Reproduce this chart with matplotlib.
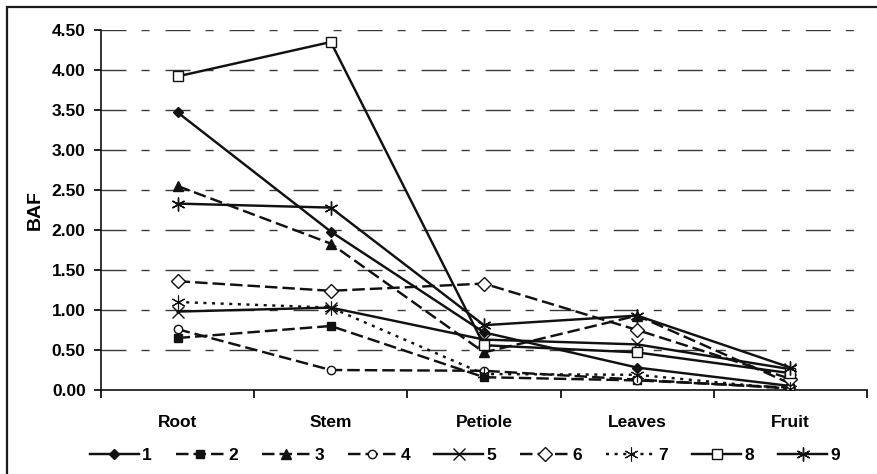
import matplotlib.pyplot as plt
from matplotlib.patches import Rectangle
from matplotlib.ticker import FixedLocator, NullFormatter

plt.rcParams['font.family'] = ['Liberation Sans', 'DejaVu Sans']
plt.rcParams['font.weight'] = 'bold'
plt.rcParams['axes.labelweight'] = 'bold'
plt.rcParams['lines.scale_dashes'] = False

# BAF per plant part for nine samples
parts = ['Root', 'Stem', 'Petiole', 'Leaves', 'Fruit']
labels = ['1', '2', '3', '4', '5', '6', '7', '8', '9']
s1 = [3.47, 1.98, 0.72, 0.28, 0.05]
s2 = [0.65, 0.80, 0.16, 0.12, 0.03]
s3 = [2.55, 1.83, 0.47, 0.93, 0.08]
s4 = [0.76, 0.25, 0.24, 0.13, 0.02]
s5 = [0.98, 1.03, 0.63, 0.57, 0.26]
s6 = [1.36, 1.24, 1.33, 0.75, 0.14]
s7 = [1.10, 1.03, 0.20, 0.19, 0.01]
s8 = [3.92, 4.35, 0.56, 0.47, 0.21]
s9 = [2.33, 2.28, 0.81, 0.93, 0.28]
series = [s1, s2, s3, s4, s5, s6, s7, s8, s9]

dash = (0, (9, 3.6))
dots = (0, (2.2, 4.0))
styles = [
    dict(ls='-', marker='D', mfc='#111', ms=5.5),
    dict(ls=dash, marker='s', mfc='#111', ms=5.5),
    dict(ls=dash, marker='^', mfc='#111', ms=7),
    dict(ls=dash, marker='o', mfc='white', ms=6),
    dict(ls='-', marker='x', mfc='none', ms=9, mew=1.0),
    dict(ls=dash, marker='D', mfc='white', ms=7, mew=1.0),
    dict(ls=dots, marker=(6, 2, 0), mfc='none', ms=10, mew=0.8),
    dict(ls='-', marker='s', mfc='white', ms=7.5, mew=1.0),
    dict(ls='-', marker=(6, 2, 0), mfc='none', ms=10, mew=1.0),
]

fig = plt.figure(figsize=(8.77, 4.74), dpi=100)
ax = fig.add_axes([101 / 877, 1 - 390 / 474, 766 / 877, 360 / 474])

x = list(range(len(parts)))
for vals, lab, st in zip(series, labels, styles):
    ax.plot(x, vals, color='#111', lw=1.75, mec='#111', label=lab, zorder=3,
            **st)

# dashed horizontal gridlines (long-short pattern)
for yv in [0.5, 1.0, 1.5, 2.0, 2.5, 3.0, 3.5, 4.0, 4.5]:
    ax.axhline(yv, color='#3a3a3a', lw=1.0, ls=(0, (18, 10.8, 5.8, 11.5)),
               zorder=1)

ax.set_xlim(-0.5, 4.5)
ax.set_ylim(0, 4.5)
ax.set_yticks([0, 0.5, 1, 1.5, 2, 2.5, 3, 3.5, 4, 4.5])
ax.set_yticklabels([f'{v:.2f}' for v in ax.get_yticks()], fontsize=12.5)
ax.xaxis.set_major_locator(FixedLocator([-0.5, 0.5, 1.5, 2.5, 3.5, 4.5]))
ax.xaxis.set_major_formatter(NullFormatter())
ax.xaxis.set_minor_locator(FixedLocator(x))
ax.set_xticklabels(parts, minor=True, fontsize=12.5)
ax.tick_params(axis='x', which='minor', length=0, pad=18)
ax.tick_params(axis='x', which='major', length=6, width=1.2, direction='out')
ax.tick_params(axis='y', length=5, width=1.2, pad=6)
ax.set_ylabel('BAF', fontsize=14, labelpad=6)

for side in ['top', 'right']:
    ax.spines[side].set_visible(False)
for side in ['left', 'bottom']:
    ax.spines[side].set_linewidth(1.2)
    ax.spines[side].set_color('#111')

ax.legend(loc='center', bbox_to_anchor=(465 / 877, 1 - 455 / 474),
          bbox_transform=fig.transFigure, ncol=9, frameon=False,
          fontsize=12.5, handlelength=2.8, handletextpad=0.2,
          columnspacing=1.4, borderaxespad=0)

# outer frame, running off the right and bottom edges
fig.add_artist(Rectangle((7 / 877, -0.1), 1.2, 1.1 - 7 / 474,
                         transform=fig.transFigure, fill=False,
                         ec='#1a1a1a', lw=1.6, clip_on=False))

fig.savefig('out.png', dpi=100)
